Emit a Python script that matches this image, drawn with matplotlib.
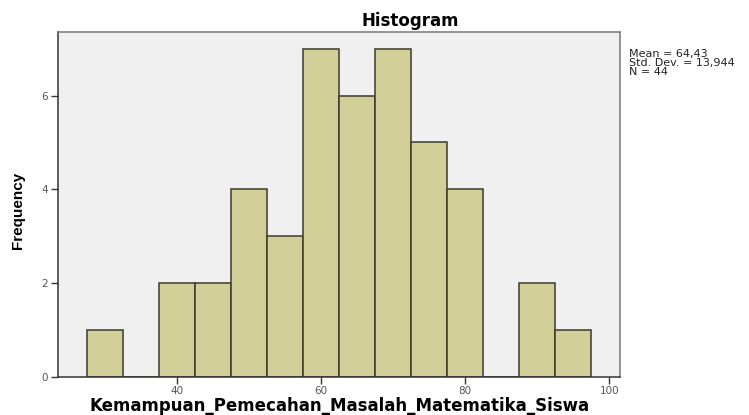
import numpy as np
import matplotlib
matplotlib.use("Agg")
import matplotlib.pyplot as plt

# histogram data (bin width 5)
bin_edges = [27.5, 32.5, 37.5, 42.5, 47.5, 52.5, 57.5, 62.5,
             67.5, 72.5, 77.5, 82.5, 87.5, 92.5, 97.5]
counts = [1, 0, 2, 2, 4, 3, 7, 6, 7, 5, 4, 0, 2, 1]
x_ticks = [40, 60, 80, 100]
y_ticks = [0, 2, 4, 6]
stats_text = "Mean = 64,43\nStd. Dev. = 13,944\nN = 44"

plt.rcParams['font.family'] = ['DejaVu Sans']

W, H = 749, 415
fig = plt.figure(figsize=(W / 100, H / 100), dpi=100)
ax = fig.add_axes([58 / W, 1 - 376.5 / H, (620 - 58) / W, (376.5 - 32.5) / H])
ax.set_facecolor('#f0f0f0')

centers = [(a + b) / 2 for a, b in zip(bin_edges[:-1], bin_edges[1:])]
ax.hist(centers, bins=bin_edges, weights=counts,
        color='#d3cf98', edgecolor='#3b3a2c', linewidth=1.1, zorder=2)

ax.set_xlim(23.5, 101.5)
ax.set_ylim(0, 7.35)
ax.set_xticks(x_ticks)
ax.set_yticks(y_ticks)
ax.tick_params(direction='out', length=5, width=1, color='#333333',
               labelsize=7.5, labelcolor='#555555', pad=2)

for side in ['left', 'bottom', 'right', 'top']:
    ax.spines[side].set_linewidth(1.1)
ax.spines['left'].set_color('#333333')
ax.spines['bottom'].set_color('#333333')
ax.spines['right'].set_color('#777777')
ax.spines['top'].set_color('#777777')

# title, axis labels and stats placed in figure pixels
fig.text(410 / W, 1 - 21 / H, "Histogram", fontsize=12, fontweight='bold',
         ha='center', va='center')
fig.text(340 / W, 1 - 411 / H, "Kemampuan_Pemecahan_Masalah_Matematika_Siswa",
         fontsize=12, fontweight='bold', ha='center', va='baseline')
fig.text(18 / W, 1 - 210 / H, "Frequency", fontsize=11, fontweight='bold',
         family=['Liberation Sans'], rotation=90, ha='center', va='center')

fig.text(629 / W, 1 - 49 / H, stats_text, fontsize=8, color='#222222',
         va='top', ha='left', linespacing=0.85)

fig.savefig('out.png', dpi=100, facecolor='white')
